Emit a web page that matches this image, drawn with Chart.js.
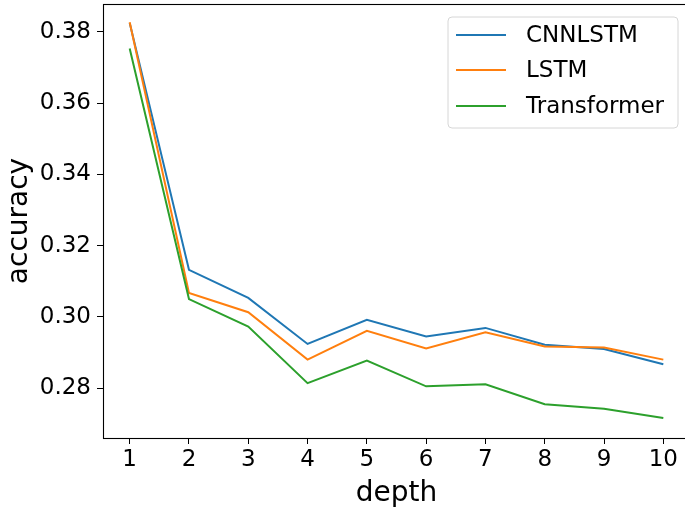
<!DOCTYPE html>
<html>
<head>
<meta charset="utf-8">
<script src="https://cdn.jsdelivr.net/npm/chart.js@4/dist/chart.umd.min.js"></script>
<style>
html, body { margin: 0; padding: 0; background: #fff; overflow: hidden; width: 685px; height: 512px; }
#wrap { width: 685px; height: 512px; overflow: hidden; position: relative; }
canvas { display: block; }
</style>
</head>
<body>
<div id="wrap"><canvas id="c" width="700" height="512"></canvas></div>
<script>
// ---- data ----
const depth = [1, 2, 3, 4, 5, 6, 7, 8, 9, 10];
const cnnlstm = [0.3825, 0.3132, 0.3053, 0.2924, 0.2992, 0.2945, 0.2969, 0.2922, 0.2910, 0.2867];
const lstm = [0.3827, 0.3067, 0.3013, 0.2880, 0.2961, 0.2911, 0.2957, 0.2917, 0.2914, 0.2880];
const transformer = [0.3753, 0.3050, 0.2973, 0.2814, 0.2877, 0.2805, 0.2811, 0.2755, 0.2742, 0.2716];
const seriesNames = ['CNNLSTM', 'LSTM', 'Transformer'];
const xTicks = [1, 2, 3, 4, 5, 6, 7, 8, 9, 10];
const yTicks = [0.28, 0.30, 0.32, 0.34, 0.36, 0.38];
const xLabel = 'depth';
const yLabel = 'accuracy';

const colors = ['#1f77b4', '#ff7f0e', '#2ca02c'];
const FONT = "'DejaVu Sans', sans-serif";

function pts(arr) { return depth.map((d, i) => ({ x: d, y: arr[i] })); }

const frame = {
  id: 'frame',
  afterDatasetsDraw(chart) {
    const { ctx, chartArea: a } = chart;
    ctx.save();
    ctx.strokeStyle = '#000';
    ctx.lineWidth = 1.1;
    ctx.strokeRect(a.left + 0.5, a.top + 0.5, a.right - a.left, a.bottom - a.top);
    ctx.restore();
  }
};

const legendBox = {
  id: 'legendBox',
  afterDraw(chart) {
    const { ctx } = chart;
    const x0 = 448, y0 = 17, w = 230, h = 111, r = 4;
    ctx.save();
    ctx.beginPath();
    ctx.moveTo(x0 + r, y0);
    ctx.arcTo(x0 + w, y0, x0 + w, y0 + h, r);
    ctx.arcTo(x0 + w, y0 + h, x0, y0 + h, r);
    ctx.arcTo(x0, y0 + h, x0, y0, r);
    ctx.arcTo(x0, y0, x0 + w, y0, r);
    ctx.closePath();
    ctx.fillStyle = 'rgba(255,255,255,0.8)';
    ctx.fill();
    ctx.strokeStyle = '#d6d6d6';
    ctx.lineWidth = 1;
    ctx.stroke();
    const rows = [35, 70, 106];
    chart.data.datasets.forEach((ds, i) => {
      const y = rows[i];
      ctx.beginPath();
      ctx.moveTo(456, y);
      ctx.lineTo(506, y);
      ctx.strokeStyle = ds.borderColor;
      ctx.lineWidth = 2;
      ctx.stroke();
      ctx.fillStyle = '#000';
      ctx.font = '23px ' + FONT;
      ctx.textBaseline = 'middle';
      ctx.textAlign = 'left';
      ctx.fillText(ds.label, 526, y + 1);
    });
    ctx.restore();
  }
};

const datasets = [cnnlstm, lstm, transformer].map((arr, i) => ({
  label: seriesNames[i],
  data: pts(arr),
  borderColor: colors[i],
  backgroundColor: colors[i],
  borderWidth: 2,
  pointRadius: 0,
  tension: 0,
  fill: false,
  order: 3 - i
}));

new Chart(document.getElementById('c'), {
  type: 'line',
  data: { datasets },
  plugins: [frame, legendBox],
  options: {
    responsive: false,
    animation: false,
    devicePixelRatio: 1,
    layout: { padding: { top: 4, right: 10, left: 0, bottom: 0 } },
    plugins: { legend: { display: false }, tooltip: { enabled: false } },
    scales: {
      x: {
        type: 'linear',
        min: 0.55,
        max: 10.45,
        afterBuildTicks(s) { s.ticks = xTicks.map(v => ({ value: v })); },
        afterFit(s) { s.height = 74; s.paddingLeft = 0; s.paddingRight = 0; },
        border: { display: false },
        grid: { display: true, drawOnChartArea: false, drawTicks: true, tickLength: 6, color: '#000', lineWidth: 1 },
        ticks: { color: '#000', font: { family: FONT, size: 23 }, padding: 2, maxRotation: 0, autoSkip: false,
                 callback: v => String(v) },
        title: { display: true, text: xLabel, color: '#000', font: { family: FONT, size: 28 }, padding: { top: 0, bottom: 1 } }
      },
      y: {
        type: 'linear',
        min: 0.2660,
        max: 0.3878,
        afterBuildTicks(s) { s.ticks = yTicks.map(v => ({ value: v })); },
        afterFit(s) { s.width = 103; s.paddingTop = 0; s.paddingBottom = 0; },
        border: { display: false },
        grid: { display: true, drawOnChartArea: false, drawTicks: true, tickLength: 6, color: '#000', lineWidth: 1 },
        ticks: { color: '#000', font: { family: FONT, size: 23 }, padding: 6, autoSkip: false,
                 callback: v => Number(v).toFixed(2) },
        title: { display: true, text: yLabel, color: '#000', font: { family: FONT, size: 28 }, padding: { top: 3, bottom: 0 } }
      }
    }
  }
});
</script>
</body>
</html>
